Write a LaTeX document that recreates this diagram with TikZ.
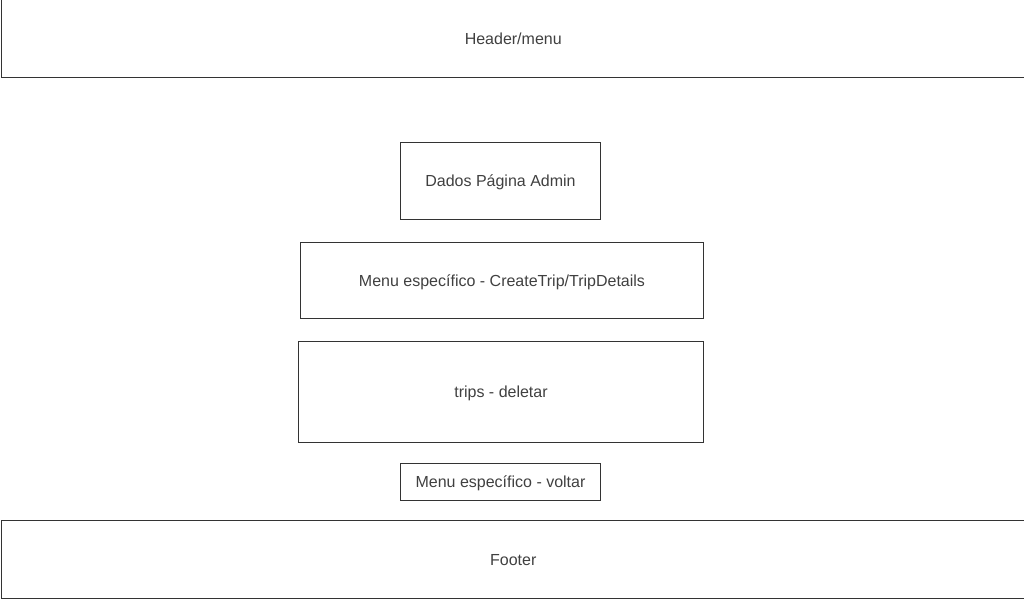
\documentclass[tikz,border=0pt]{standalone}
\usepackage{fontspec}
\setmainfont{Liberation Sans}
\definecolor{linegray}{HTML}{333333}
\definecolor{textgray}{HTML}{404040}

\begin{document}
\begin{tikzpicture}[x=1pt, y=-1pt,
    block/.style={draw=linegray, line width=1pt, text=textgray,
        font=\fontsize{16}{19}\selectfont, inner sep=0pt,
        text height=11.5pt, text depth=0pt}]

    \useasboundingbox (0,0) rectangle (1024,600);

    % Header and footer bands
    \node[block, minimum width=1023.5, minimum height=78]
        (header) at (513.25,38.5) {Header/menu};
    \node[block, minimum width=1023.5, minimum height=78]
        (footer) at (513.25,559.5) {Footer};

    % Page blocks
    \node[block, minimum width=200, minimum height=77]
        (dados) at (500.5,181) {Dados Página Admin};
    \node[block, minimum width=403, minimum height=76]
        (menutrip) at (502,280.5) {Menu específico - CreateTrip/TripDetails};
    \node[block, minimum width=405, minimum height=101]
        (trips) at (501,392) {trips - deletar};
    \node[block, minimum width=200, minimum height=37]
        (voltar) at (500.5,482) {Menu específico - voltar};

\end{tikzpicture}
\end{document}
